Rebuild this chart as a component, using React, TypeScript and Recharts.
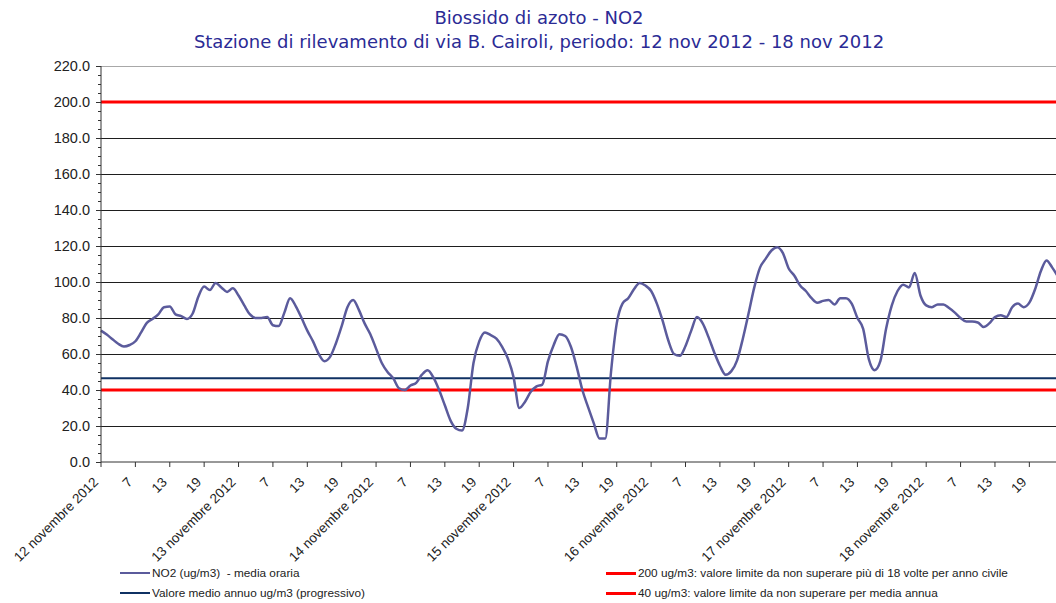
import { LineChart, Line, XAxis, YAxis, CartesianGrid } from 'recharts';

// NO2 hourly means, 12 nov 2012 h1 -> 18 nov 2012 h24 (ug/m3)
const NO2 = [
  73, 70.8, 68.2, 65.7, 64.2, 65, 67.1, 72, 77.3, 79.5,
  82, 86, 86.4, 82, 81, 79.5, 82.5, 92, 97.5, 95.5,
  99.5, 97, 94.5, 96.5, 92.5, 87, 82, 80, 80, 80.5,
  76, 75.5, 83, 91, 86.5, 80, 73, 67, 60, 56,
  58.5, 66, 75.5, 86, 90, 84.5, 77, 71, 63, 55,
  50, 46.5, 41, 40, 42.5, 44, 48.5, 51, 47, 40,
  31.5, 23, 18.5, 17.5, 30, 55, 67, 72, 70.5, 68.5,
  64, 57.5, 47, 30, 33.5, 39, 42, 43, 56, 65,
  71, 70, 64, 53, 40, 30.5, 21.5, 13, 13, 50,
  77, 88, 91, 96, 99.5, 98, 95, 88, 78.5, 67.5,
  60, 59, 64.5, 73, 80.5, 77, 69.5, 61, 53.5, 48.5,
  50.5, 56.5, 68.5, 82.5, 97, 108, 113, 117.5, 119.3, 116,
  107.5, 103.5, 98, 95, 91, 88.5, 89.5, 90, 87.5, 91,
  91, 88, 80, 74, 57, 51, 56, 74, 87, 95,
  98.5, 97, 105, 92.5, 87, 86, 87.5, 87.5, 85.5, 83,
  80, 78, 78, 77.5, 75, 77, 80.5, 81.5, 80.5, 86,
  88, 86, 88.5, 96, 106, 112, 108, 103,
];

const ANNUAL_MEAN = 46.5;
const LIMIT_HOURLY = 200;
const LIMIT_ANNUAL = 40;

const DAY_LABELS = [
  '12 novembre 2012',
  '13 novembre 2012',
  '14 novembre 2012',
  '15 novembre 2012',
  '16 novembre 2012',
  '17 novembre 2012',
  '18 novembre 2012',
];
const HOUR_LABELS = ['7', '13', '19'];

const GRID_VALUES = [20, 40, 60, 80, 100, 120, 140, 160, 180, 200];
const Y_TICKS = Array.from({ length: 45 }, (_, k) => k * 5);
const X_TICKS = Array.from({ length: 28 }, (_, k) => k * 6);

const LEGEND = [
  { name: 'NO2 (ug/m3)  - media oraria', color: '#5b5b9c', width: 2, left: 120, top: 573 },
  { name: 'Valore medio annuo ug/m3 (progressivo)', color: '#0f3163', width: 2, left: 120, top: 593 },
  { name: '200 ug/m3: valore limite da non superare più di 18 volte per anno civile', color: '#ff0000', width: 3, left: 606, top: 573 },
  { name: '40 ug/m3: valore limite da non superare per media annua', color: '#ff0000', width: 3, left: 606, top: 593 },
];

const rows = NO2.map((v, i) => ({
  h: i,
  no2: v,
  media: ANNUAL_MEAN,
  lim200: LIMIT_HOURLY,
  lim40: LIMIT_ANNUAL,
}));

const FONT = '"Liberation Sans", Arial, sans-serif';

const YTick = (props: any) => {
  const { x, y, payload } = props;
  const major = payload.value % 20 === 0;
  return (
    <g>
      <line x1={x - (major ? 5 : 3)} x2={x} y1={y} y2={y} stroke="#333" shapeRendering="crispEdges" />
      {major && (
        <text x={x - 11} y={y} dy={5} textAnchor="end" fontSize={14.5} fill="#222" fontFamily={FONT}>
          {payload.value.toFixed(1)}
        </text>
      )}
    </g>
  );
};

const XTick = (props: any) => {
  const { x, y, payload } = props;
  const k = payload.value / 6;
  const label = k % 4 === 0 ? DAY_LABELS[k / 4] : HOUR_LABELS[(k % 4) - 1];
  return (
    <g transform={`translate(${x - 2},${y + 16})`}>
      <text x={0} y={0} transform="rotate(-45)" textAnchor="end" fontSize={13.5} fill="#222" fontFamily={FONT}>
        {label}
      </text>
    </g>
  );
};

const gridLine = (color: string) => (props: any) => (
  <line
    key={props.key}
    x1={props.x1}
    x2={props.x2}
    y1={props.y1}
    y2={props.y2}
    stroke={color}
    strokeWidth={1}
    shapeRendering="crispEdges"
  />
);

export default function App() {
  return (
    <div
      style={{
        position: 'relative',
        width: 1056,
        height: 603,
        overflow: 'hidden',
        background: '#fff',
        fontFamily: FONT,
      }}
    >
      <style>{'body{margin:0}'}</style>

      {/* title */}
      <div
        style={{
          position: 'absolute',
          top: 6,
          left: 0,
          width: 1078,
          textAlign: 'center',
          color: '#2b2b95',
          fontFamily: '"DejaVu Sans", sans-serif',
          fontSize: 18,
          lineHeight: '24px',
        }}
      >
        <div>Biossido di azoto - NO2</div>
        <div>Stazione di rilevamento di via B. Cairoli, periodo: 12 nov 2012 - 18 nov 2012</div>
      </div>

      <LineChart width={1070} height={603} data={rows} margin={{ top: 66, right: 12, bottom: 41, left: 0 }}>
        <CartesianGrid vertical={false} horizontalValues={GRID_VALUES} horizontal={gridLine('#1e1e1e')} />
        <CartesianGrid vertical={false} horizontalValues={[220]} horizontal={gridLine('#a8a8a8')} />
        <XAxis
          dataKey="h"
          type="number"
          domain={[0, NO2.length - 1]}
          ticks={X_TICKS}
          interval={0}
          height={100}
          tickSize={5}
          tickMargin={0}
          stroke="#333"
          tick={<XTick />}
        />
        <YAxis
          type="number"
          domain={[0, 220]}
          ticks={Y_TICKS}
          interval={0}
          width={101}
          tickSize={0}
          tickMargin={0}
          tickLine={false}
          stroke="#333"
          tick={<YTick />}
        />
        <Line dataKey="lim200" stroke="#ff0000" strokeWidth={3} dot={false} isAnimationActive={false} />
        <Line dataKey="lim40" stroke="#ff0000" strokeWidth={3} dot={false} isAnimationActive={false} />
        <Line dataKey="media" stroke="#0f3163" strokeWidth={2} dot={false} isAnimationActive={false} />
        <Line
          dataKey="no2"
          type="monotone"
          stroke="#5b5b9c"
          strokeWidth={2.5}
          dot={false}
          isAnimationActive={false}
        />
      </LineChart>

      {/* legend */}
      {LEGEND.map((item) => (
        <div
          key={item.name}
          style={{
            position: 'absolute',
            left: item.left,
            top: item.top - 8,
            height: 16,
            display: 'flex',
            alignItems: 'center',
            fontSize: 11.8,
            color: '#222',
            whiteSpace: 'pre',
          }}
        >
          <span style={{ display: 'inline-block', width: 30, height: 0, borderTop: `${item.width}px solid ${item.color}`, marginRight: 2 }} />
          <span>{item.name}</span>
        </div>
      ))}
    </div>
  );
}
